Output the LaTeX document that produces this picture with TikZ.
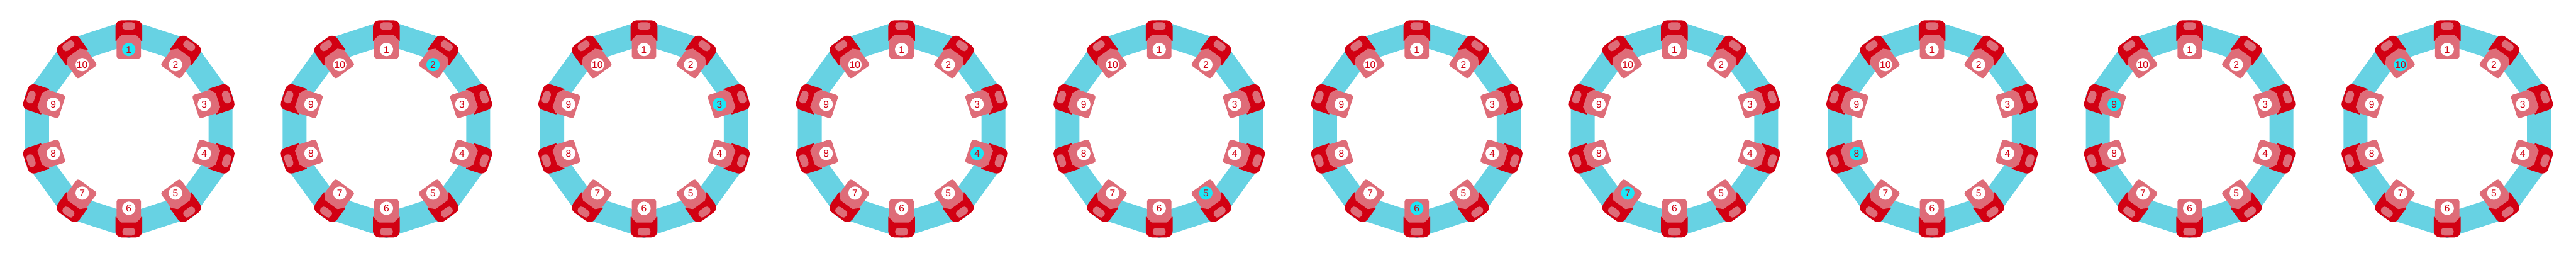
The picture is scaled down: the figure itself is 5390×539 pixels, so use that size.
\documentclass[tikz,border=0pt]{standalone}
\usepackage{fontspec}
\setsansfont{Liberation Sans}
\usetikzlibrary{calc}

\definecolor{bandcyan}{RGB}{103,210,227}
\definecolor{capred}{RGB}{210,0,18}
\definecolor{basepink}{RGB}{222,108,120}
\definecolor{hicyan}{RGB}{30,230,245}

\begin{document}
\begin{tikzpicture}[
  x=1pt, y=1pt,
  font=\sffamily\fontsize{20.5}{24}\selectfont,
  band/.style={draw=bandcyan, line width=50pt, line join=miter},
  capbox/.style={fill=capred},
  basebox/.style={fill=basepink},
  slot/.style={fill=basepink, rounded corners=7pt},
  num/.style={circle, fill=white, text=capred, minimum size=28pt, inner sep=0pt},
  hi/.style={num, fill=hicyan},
]
\useasboundingbox (0,0) rectangle (5390,539);

\foreach \k in {1,...,10} {
  \coordinate (c\k) at ({539*\k-269.5},269.5);
  \foreach \i in {1,...,10}
    \coordinate (c\k-v\i) at ($(c\k)+({90-36*(\i-1)}:201.9)$);
  % ring
  \draw[band] (c\k-v1) \foreach \i in {2,...,10} {-- (c\k-v\i)} -- cycle;
  % modules
  \foreach \i in {1,...,10} {
    \begin{scope}[shift={(c\k)}, rotate={-36*(\i-1)}]
      \fill[capbox] (-28,184) -- (-28,214) arc[start angle=180, end angle=90, radius=13]
        -- (15,227) arc[start angle=90, end angle=0, radius=13] -- (28,184) -- cycle;
      \fill[slot] (-13.5,207) rectangle (13.5,223);
      \fill[basebox] (-25.5,186) -- (-25.5,152) arc[start angle=180, end angle=270, radius=5]
        -- (20.5,147) arc[start angle=270, end angle=360, radius=5]
        -- (25.5,186) -- (15.5,196) -- (-15.5,196) -- cycle;
      \ifnum\i=\k
        \node[hi] (c\k-m\i) at (0,166) {\i};
      \else
        \node[num] (c\k-m\i) at (0,166) {\i};
      \fi
    \end{scope}
  }
}
\end{tikzpicture}
\end{document}
